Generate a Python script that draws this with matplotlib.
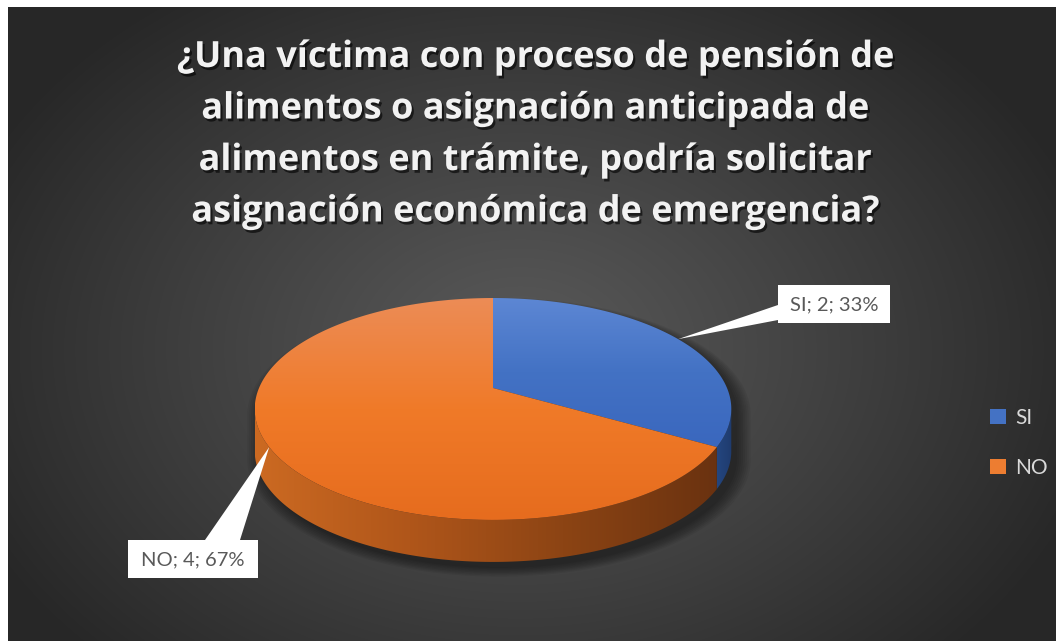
import numpy as np
import matplotlib.pyplot as plt
from matplotlib.patches import Polygon, Rectangle, Patch
from matplotlib import patheffects as pe
from matplotlib.colors import to_rgb

# ---------------------------------------------------------
# Data
# ---------------------------------------------------------
title_lines = [
    "¿Una víctima con proceso de pensión de",
    "alimentos o asignación anticipada de",
    "alimentos en trámite, podría solicitar",
    "asignación económica de emergencia?",
]
labels = ["SI", "NO"]
values = [2, 4]

top_colors = [["#5d87d4", "#4372c4", "#3a67be"], ["#ec8c56", "#f07a28", "#e66c1e"]]
side_colors = [["#24467f", "#1f3b6e"], ["#cc6a22", "#b0561a", "#8c4414", "#6a3210"]]
legend_colors = ["#4472c4", "#ed7d31"]

# ---------------------------------------------------------
# Figure + background
# ---------------------------------------------------------
W, H = 1056, 641
fig = plt.figure(figsize=(W / 100, H / 100), dpi=100)
fig.patch.set_facecolor("white")
ax = fig.add_axes([0, 0, 1, 1])
ax.set_xlim(0, W)
ax.set_ylim(H, 0)
ax.axis("off")

bx0, by0 = 8, 7
yy, xx = np.mgrid[by0:H, bx0:W]
r = np.sqrt(((xx - 520) / 600.0) ** 2 + ((yy - 350) / 440.0) ** 2)
r = np.clip(r, 0, 1) ** 1.1
val = (0x59 - (0x59 - 0x27) * r) / 255.0
bg = np.dstack([val, val, val])
ax.imshow(bg, extent=(bx0, W, H, by0), origin="upper", aspect="auto",
          interpolation="bilinear", zorder=0)


def stops(cols, n=256):
    arr = np.array([to_rgb(c) for c in cols])
    pos = np.linspace(0, 1, len(cols))
    t = np.linspace(0, 1, n)
    return np.stack([np.interp(t, pos, arr[:, k]) for k in range(3)], axis=-1)


def grad_fill(xy, cols, vertical=True, z=2):
    patch = Polygon(xy, closed=True, facecolor="none", edgecolor="none", zorder=z)
    ax.add_patch(patch)
    x0, y0 = xy.min(axis=0)
    x1, y1 = xy.max(axis=0)
    g = stops(cols)
    img = g[:, None, :] if vertical else g[None, :, :]
    im = ax.imshow(img, extent=(x0, x1, y1, y0), origin="upper", aspect="auto",
                   interpolation="bilinear", zorder=z)
    im.set_clip_path(patch)


# ---------------------------------------------------------
# 3D pie geometry (perspective-tilted disc)
# ---------------------------------------------------------
cx, cy = 493, 388
a0, b0, p = 234, 107, 0.189
depth = 42


def proj(t):
    u, v = np.sin(t), np.cos(t)
    s = 1.0 / (1.0 + p * v)
    return np.column_stack([cx + a0 * u * s, cy - b0 * v * s])


fracs = np.array(values, dtype=float) / sum(values)
edges = np.concatenate([[0], np.cumsum(fracs)]) * 2 * np.pi
vis0, vis1 = np.arccos(-p), 2 * np.pi - np.arccos(-p)

# shadow
front = proj(np.linspace(vis0, vis1, 200)) + [0, depth]
sil = np.vstack([proj(np.linspace(vis1, 2 * np.pi + vis0, 200)), front])
for k in range(8):
    sc = 1 + 0.008 * k
    pts = (sil - [cx, cy + 20]) * sc + [cx + 6, cy + 26]
    ax.add_patch(Polygon(pts, closed=True, facecolor="black", edgecolor="none",
                         alpha=0.06, zorder=1))

# side walls
for i in range(len(values)):
    t0, t1 = max(edges[i], vis0), min(edges[i + 1], vis1)
    if t1 <= t0:
        continue
    arc = proj(np.linspace(t0, t1, 150))
    wall = np.vstack([arc, (arc + [0, depth])[::-1]])
    grad_fill(wall, side_colors[i], vertical=False, z=2)

# top faces
for i in range(len(values)):
    arc = proj(np.linspace(edges[i], edges[i + 1], 200))
    face = np.vstack([[cx, cy], arc])
    grad_fill(face, top_colors[i], vertical=True, z=3)

# ---------------------------------------------------------
# Data labels with callouts
# ---------------------------------------------------------
label_boxes = [(778, 285, 112, 38), (128, 540, 130, 38)]
leader_base = [[(778, 305), (778, 320)], [(205, 540), (240, 540)]]
total = sum(values)
for i, lab in enumerate(labels):
    mid = (edges[i] + edges[i + 1]) / 2
    anchor = proj(np.array([mid]))[0]
    tri = np.vstack([anchor, leader_base[i]])
    ax.add_patch(Polygon(tri, closed=True, facecolor="white", edgecolor="none", zorder=5))
    x, y, w, h = label_boxes[i]
    ax.add_patch(Rectangle((x, y), w, h, facecolor="white", edgecolor="none", zorder=6))
    txt = f"{lab}; {values[i]}; {round(100 * values[i] / total)}%"
    ax.text(x + w / 2, y + h / 2 + 1, txt, ha="center", va="center", fontsize=14.5,
            color="#595959", family=["Lato", "DejaVu Sans"], zorder=7)

# ---------------------------------------------------------
# Title
# ---------------------------------------------------------
shadow = [pe.SimplePatchShadow(offset=(1.5, -2), shadow_rgbFace="black", alpha=0.6),
          pe.Normal()]
for j, line in enumerate(title_lines):
    ax.text(536, 67 + j * 51.5, line, ha="center", va="baseline", fontsize=26,
            fontweight="bold", color="#f2f2f2", family=["Open Sans", "DejaVu Sans"],
            path_effects=shadow, zorder=8)

# ---------------------------------------------------------
# Legend
# ---------------------------------------------------------
handles = [Patch(facecolor=c, edgecolor="none") for c in legend_colors]
leg = ax.legend(handles, labels, loc="center left", bbox_to_anchor=(990 / W, 1 - 443 / H),
                bbox_transform=fig.transFigure, frameon=False, borderpad=0,
                borderaxespad=0, handlelength=0.75, handleheight=0.75,
                handletextpad=0.45, labelspacing=1.45, labelcolor="#d9d9d9",
                prop={"family": ["Lato", "DejaVu Sans"], "size": 15})

ax.set_xlim(0, W)
ax.set_ylim(H, 0)
fig.savefig("out.png", dpi=100, facecolor="white")
